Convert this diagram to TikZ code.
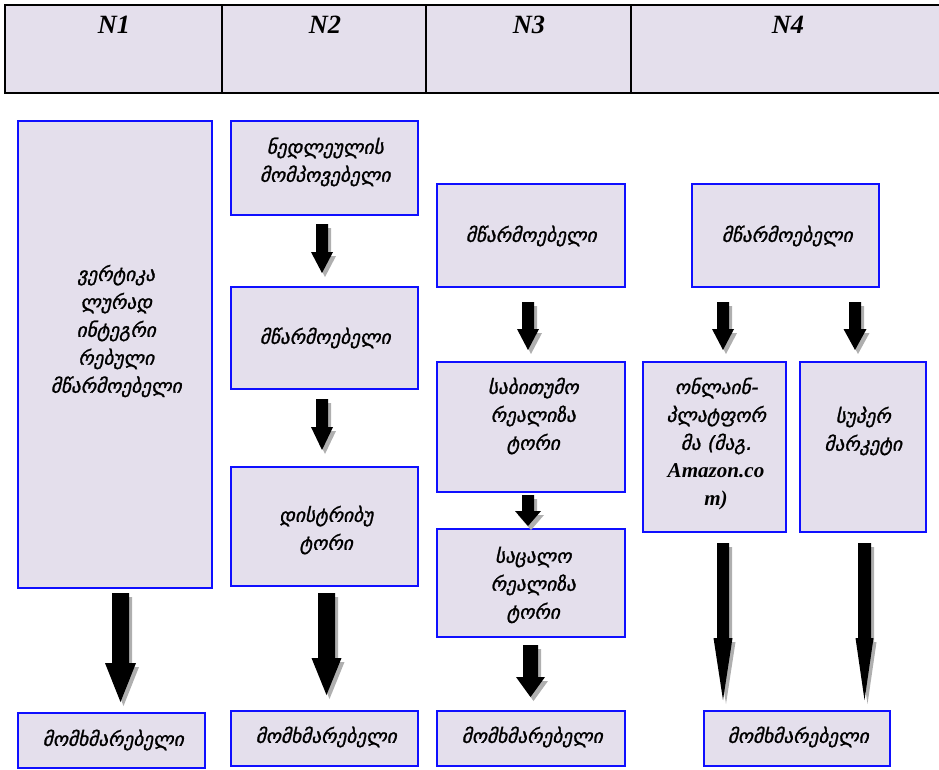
\documentclass[tikz,border=0pt]{standalone}
\usepackage{fontspec}
\setmainfont{Liberation Serif}
\newfontfamily\geo[FakeSlant=0.22,FakeBold=1.3]{DejaVu Sans}
\usetikzlibrary{fit}
\definecolor{boxfill}{RGB}{228,223,236}
\definecolor{boxline}{RGB}{15,15,255}
\definecolor{shadowgray}{RGB}{175,175,175}
\newcommand\blockarr[6]{%
  \fill[shadowgray,shift={(3,4)}] (#1-#5,#2) -- (#1+#5,#2) -- (#1+#5,#3) -- (#1+#6,#3) -- (#1,#4) -- (#1-#6,#3) -- (#1-#5,#3) -- cycle;
  \fill[black] (#1-#5,#2) -- (#1+#5,#2) -- (#1+#5,#3) -- (#1+#6,#3) -- (#1,#4) -- (#1-#6,#3) -- (#1-#5,#3) -- cycle;
}
\tikzset{
  box/.style={draw=boxline, line width=1.2pt, fill=boxfill, inner sep=0pt},
  txt/.style={font=\geo\fontsize{11}{15.9}\selectfont, align=center, inner sep=0pt},
  hdr/.style={font=\bfseries\itshape\fontsize{15}{17}\selectfont, inner sep=0pt},
  hline/.style={line width=1.1pt, black}
}
\begin{document}
\begin{tikzpicture}[x=0.02cm,y=-0.02cm]
\useasboundingbox (0,0) rectangle (939,769);
% header
\fill[boxfill] (5,5) rectangle (939,93);
\draw[hline] (939,5) -- (5,5) -- (5,93) -- (939,93);
\draw[hline] (222,5) -- (222,93);
\draw[hline] (426,5) -- (426,93);
\draw[hline] (631,5) -- (631,93);
\node[hdr] (h1) at (114,25) {N1};
\node[hdr] (h2) at (325,25) {N2};
\node[hdr] (h3) at (529,25) {N3};
\node[hdr] (h4) at (788,25) {N4};
% column 1
\node[box, fit={(18,121)(212,588)}] (c1) {};
\node[txt] (t1) at (116,331) {ვერტიკა\\ლურად\\ინტეგრი\\რებული\\მწარმოებელი};
\node[box, fit={(18,713)(205,768)}] (k1) {};
\node[txt] (tk1) at (113,740) {მომხმარებელი};
% column 2
\node[box, fit={(231,121)(418,215)}] (c2a) {};
\node[txt] (t2a) at (325,162) {ნედლეულის\\მომპოვებელი};
\node[box, fit={(231,287)(418,389)}] (c2b) {};
\node[txt] (t2b) at (325,338) {მწარმოებელი};
\node[box, fit={(231,467)(418,586)}] (c2c) {};
\node[txt] (t2c) at (326,530) {დისტრიბუ\\ტორი};
\node[box, fit={(231,711)(418,766)}] (k2) {};
\node[txt] (tk2) at (326,737) {მომხმარებელი};
% column 3
\node[box, fit={(437,184)(625,287)}] (c3a) {};
\node[txt] (t3a) at (531,236) {მწარმოებელი};
\node[box, fit={(437,362)(625,492)}] (c3b) {};
\node[txt] (t3b) at (533,416) {საბითუმო\\რეალიზა\\ტორი};
\node[box, fit={(437,529)(625,637)}] (c3c) {};
\node[txt] (t3c) at (533,585) {საცალო\\რეალიზა\\ტორი};
\node[box, fit={(437,711)(625,766)}] (k3) {};
\node[txt] (tk3) at (532,737) {მომხმარებელი};
% column 4
\node[box, fit={(692,184)(879,287)}] (c4a) {};
\node[txt] (t4a) at (787,236) {მწარმოებელი};
\node[box, fit={(643,362)(786,532)}] (c4b) {};
\node[txt] (t4b) at (716,444) {ონლაინ-\\პლატფორ\\მა (მაგ.\\{\bfseries\itshape\rmfamily\fontsize{12}{15.9}\selectfont Amazon.co}\\{\bfseries\itshape\rmfamily\fontsize{12}{15.9}\selectfont m)}};
\node[box, fit={(800,362)(926,532)}] (c4c) {};
\node[txt] (t4c) at (863,431) {სუპერ\\მარკეტი};
\node[box, fit={(704,711)(890,766)}] (k4) {};
\node[txt] (tk4) at (798,737) {მომხმარებელი};
% arrows
\blockarr{120.5}{593}{663}{702}{8.5}{15.5}
\blockarr{322}{224}{252}{273}{6}{11}
\blockarr{322}{399}{427}{450}{6}{11}
\blockarr{326.5}{593}{658}{695}{8.5}{15}
\blockarr{528}{302}{329}{350}{6}{11}
\blockarr{528}{495}{511}{526}{6}{13}
\blockarr{530.5}{645}{677}{697}{7.5}{14.5}
\blockarr{723}{302}{329}{350}{6}{11}
\blockarr{855}{302}{329}{350}{6}{11.5}
\blockarr{723}{543}{638}{700}{6}{9.5}
\blockarr{864.5}{543}{638}{700}{6.5}{9}
\end{tikzpicture}
\end{document}
